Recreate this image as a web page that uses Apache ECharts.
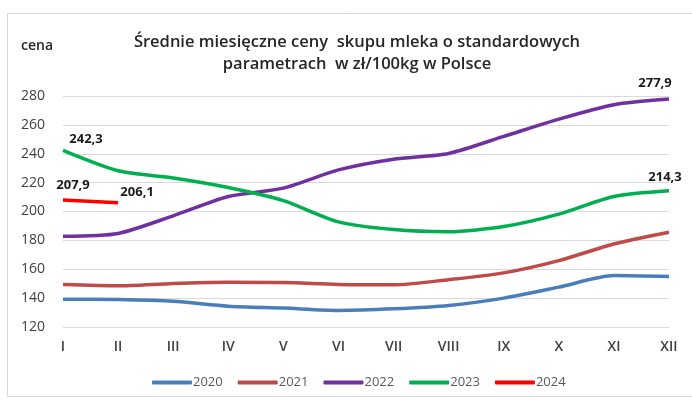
<!DOCTYPE html>
<html>
<head>
<meta charset="utf-8">
<script src="https://cdn.jsdelivr.net/npm/echarts@6/dist/echarts.min.js"></script>
<style>
  html, body { margin: 0; padding: 0; background: #fff; }
  #chart { width: 692px; height: 401px; }
</style>
</head>
<body>
<div id="chart"></div>
<script>
// miesiące
const months = ['I', 'II', 'III', 'IV', 'V', 'VI', 'VII', 'VIII', 'IX', 'X', 'XI', 'XII'];

// ceny zł/100kg
const y2020 = [139.3, 139.0, 137.8, 134.4, 133.1, 131.5, 132.6, 134.9, 140.0, 147.6, 155.6, 154.9];
const y2021 = [149.4, 148.5, 150.2, 151.0, 150.8, 149.5, 149.2, 152.8, 157.5, 166.0, 177.5, 185.6];
const y2022 = [182.8, 184.8, 197.0, 210.4, 216.2, 228.8, 236.2, 240.2, 252.0, 264.0, 274.0, 277.9];
const y2023 = [242.3, 228.2, 223.2, 216.6, 207.5, 192.8, 187.5, 186.0, 189.6, 198.2, 210.4, 214.3];
const y2024 = [207.9, 206.1];

const series = [
  { name: '2020', data: y2020, color: '#4A7EBB' },
  { name: '2021', data: y2021, color: '#BE4B48' },
  { name: '2022', data: y2022, color: '#7030A0' },
  { name: '2023', data: y2023, color: '#00B050' },
  { name: '2024', data: y2024, color: '#FF0000' }
];

// etykiety wybranych punktów: przesunięcie [x, y]
const labelled = {
  '2022': { 11: [-14, -4] },
  '2023': { 0: [23, 0], 11: [-4, -2] },
  '2024': { 0: [10, -3], 1: [19, 1] }
};

const chart = echarts.init(document.getElementById('chart'));

chart.setOption({
  animation: false,
  title: {
    text: 'Średnie miesięczne ceny  skupu mleka o standardowych\nparametrach  w zł/100kg w Polsce',
    left: 352,
    textAlign: 'center',
    top: 26,
    textStyle: {
      fontFamily: 'Open Sans',
      fontSize: 16.5,
      fontWeight: 600,
      color: '#262626',
      lineHeight: 22
    }
  },
  graphic: [{
    type: 'rect',
    shape: { x: 7.5, y: 13.5, width: 700, height: 383 },
    style: { fill: 'none', stroke: '#d9d9d9', lineWidth: 1 }
  }, {
    type: 'text',
    left: 21,
    top: 39,
    style: { text: 'cena', fontFamily: 'Open Sans', fontSize: 14, fontWeight: 600, fill: '#262626' }
  }],
  legend: {
    bottom: 7,
    left: 147,
    itemWidth: 40,
    itemHeight: 4,
    itemGap: 15,
    icon: 'roundRect',
    textStyle: { fontFamily: 'Open Sans', fontSize: 13, color: '#595959', padding: [0, 0, 0, -4] }
  },
  grid: { left: 63, right: 23, top: 96, bottom: 74 },
  xAxis: {
    type: 'category',
    data: months,
    boundaryGap: false,
    axisLine: { show: false },
    axisTick: { show: false },
    axisLabel: {
      margin: 13,
      fontFamily: 'Open Sans',
      fontSize: 14,
      fontWeight: 600,
      color: '#404040'
    }
  },
  yAxis: {
    type: 'value',
    min: 120,
    max: 280,
    interval: 20,
    axisLine: { show: false },
    axisTick: { show: false },
    splitLine: { lineStyle: { color: '#d9d9d9', width: 1 } },
    axisLabel: {
      margin: 18,
      fontFamily: 'Open Sans',
      fontSize: 14,
      color: '#404040'
    }
  },
  series: series.map(s => ({
    name: s.name,
    type: 'line',
    smooth: 0.25,
    symbol: 'circle',
    symbolSize: 0,
    showSymbol: true,
    color: s.color,
    lineStyle: { width: 3.5, color: s.color },
    data: s.data.map((v, i) => {
      const pos = labelled[s.name] && labelled[s.name][i];
      if (!pos) return v;
      return {
        value: v,
        label: {
          show: true,
          position: 'top',
          offset: pos,
          formatter: p => String(p.value).replace('.', ','),
          fontFamily: 'Open Sans',
          fontSize: 13,
          fontWeight: 700,
          color: '#1a1a1a'
        }
      };
    })
  }))
});
</script>
</body>
</html>
